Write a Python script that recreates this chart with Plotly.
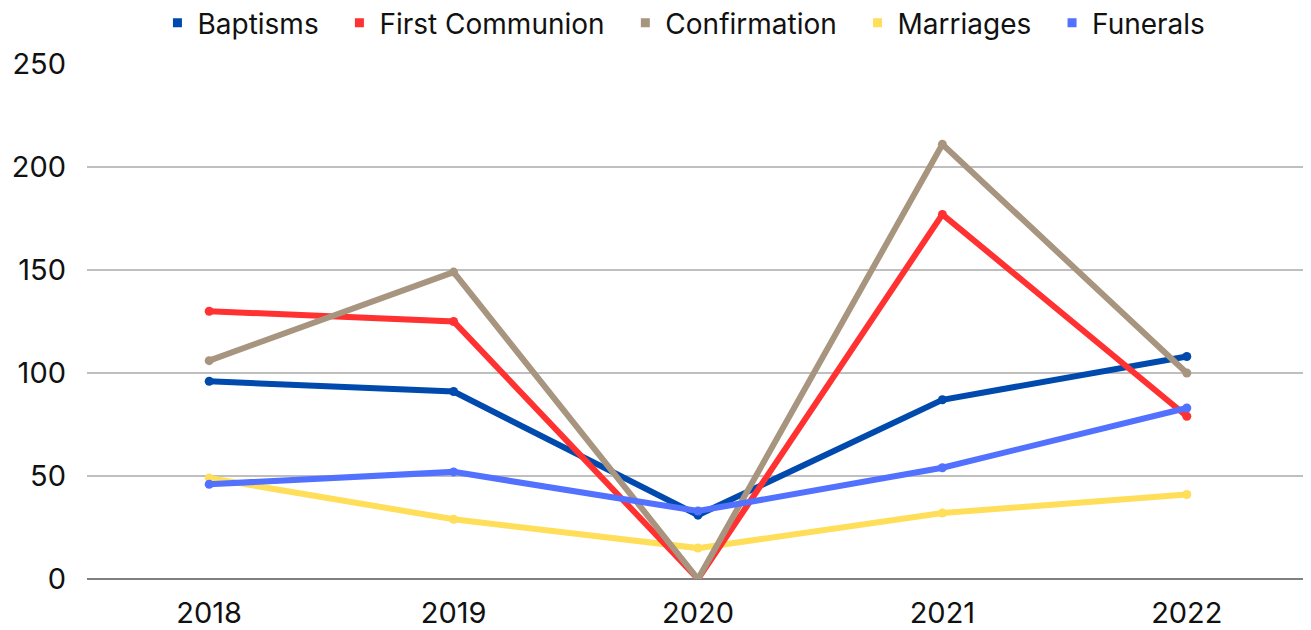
import plotly.graph_objects as go

years = ["2018", "2019", "2020", "2021", "2022"]
baptisms = [96, 91, 31, 87, 108]
first_communion = [130, 125, 0, 177, 79]
confirmation = [106, 149, 0, 211, 100]
marriages = [49, 29, 15, 32, 41]
funerals = [46, 52, 33, 54, 83]

series = [
    ("Baptisms", baptisms, "#004AAD"),
    ("First Communion", first_communion, "#FF3131"),
    ("Confirmation", confirmation, "#A8957F"),
    ("Marriages", marriages, "#FFDE59"),
    ("Funerals", funerals, "#5271FF"),
]

fig = go.Figure()
order = ["Marriages", "Baptisms", "First Communion", "Confirmation", "Funerals"]
lookup = {n: (v, c) for n, v, c in series}
for name in order:
    vals, col = lookup[name]
    fig.add_trace(go.Scatter(
        x=years, y=vals, mode="lines+markers", name=name,
        line=dict(color=col, width=6), marker=dict(color=col, size=9),
        showlegend=False, hoverinfo="x+y+name",
    ))
for i, (name, vals, col) in enumerate(series):
    label = name + ("\u00a0\u00a0" if i < len(series) - 1 else "")
    fig.add_trace(go.Scatter(
        x=[None], y=[None], mode="markers", name=label,
        marker=dict(color=col, size=9, symbol="square"), showlegend=True,
    ))

# page body has an 8px margin, so the figure is sized to end at the window edge
fig.update_layout(
    width=1303, height=622,
    margin=dict(l=79, r=2, t=56, b=51, autoexpand=False),
    plot_bgcolor="white", paper_bgcolor="white",
    font=dict(family="Inter, sans-serif", size=29, color="#111111"),
    legend=dict(orientation="h", x=0.4885, xanchor="center", y=0.976, yanchor="middle",
                yref="container", font=dict(size=28), itemwidth=30,
                tracegroupgap=0, traceorder="normal"),
    showlegend=True,
)
fig.update_xaxes(type="category", range=[-0.5, 4.5], showgrid=False, showline=False,
                 ticks="", ticklabelstandoff=14, zeroline=False, automargin=False)
fig.update_yaxes(range=[0, 250], dtick=50, showgrid=True, gridcolor="#BFBFBF", gridwidth=1.5,
                 zeroline=True, zerolinecolor="#808080", zerolinewidth=1.5,
                 ticks="", ticklabelstandoff=20, showline=False, automargin=False)

fig.write_html("out.html")
